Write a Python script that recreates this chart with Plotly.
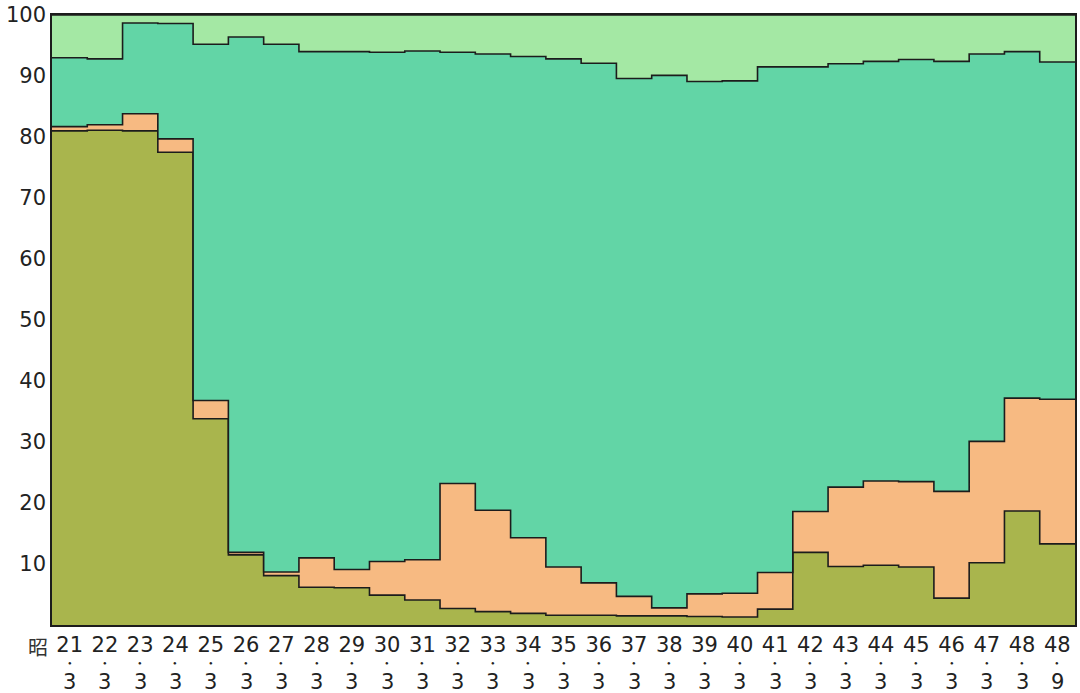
import numpy as np
import plotly.graph_objects as go

# Categories (昭和 year . month)
years = ["21", "22", "23", "24", "25", "26", "27", "28", "29", "30",
         "31", "32", "33", "34", "35", "36", "37", "38", "39", "40",
         "41", "42", "43", "44", "45", "46", "47", "48", "48"]
months = ["3"] * 28 + ["9"]

# Shares (%) of each layer, bottom to top
olive = [81.0, 81.1, 81.0, 77.5, 33.8, 11.5, 8.1, 6.2, 6.1, 4.9,
         4.1, 2.7, 2.2, 1.9, 1.6, 1.6, 1.5, 1.5, 1.4, 1.3,
         2.6, 11.9, 9.6, 9.8, 9.5, 4.4, 10.2, 18.7, 13.3]
orange = [0.7, 0.9, 2.8, 2.2, 3.0, 0.4, 0.6, 4.8, 3.0, 5.5,
          6.6, 20.5, 16.6, 12.4, 7.9, 5.3, 3.2, 1.3, 3.7, 3.9,
          6.0, 6.7, 13.0, 13.8, 14.0, 17.5, 19.9, 18.5, 23.7]
teal = [11.3, 10.8, 14.9, 18.9, 58.4, 84.5, 86.5, 83.0, 84.9, 83.5,
        83.4, 70.7, 74.8, 78.9, 83.3, 85.2, 84.9, 87.3, 84.0, 84.0,
        82.9, 72.9, 69.4, 68.8, 69.2, 70.5, 63.5, 56.8, 55.3]
light = [7.0, 7.2, 1.3, 1.4, 4.8, 3.6, 4.8, 6.0, 6.0, 6.1,
         5.9, 6.1, 6.4, 6.8, 7.2, 7.9, 10.4, 9.9, 10.9, 10.8,
         8.5, 8.5, 8.0, 7.6, 7.3, 7.6, 6.4, 6.0, 7.7]

layers = [olive, orange, teal, light]
colors = ["#a9b54d", "#f7ba82", "#62d5a6", "#a4e8a4"]

n = len(years)
xs = np.arange(n + 1)
cum = np.cumsum(np.array(layers), axis=0)

fig = go.Figure()
for i, (vals, col) in enumerate(zip(cum, colors)):
    ys = np.append(vals, vals[-1])
    fig.add_trace(go.Scatter(
        x=xs, y=ys, mode="lines", line_shape="hv",
        line=dict(color="#1c1c1c", width=1.6),
        fill="tozeroy" if i == 0 else "tonexty",
        fillcolor=col, hoverinfo="skip", showlegend=False,
    ))

tick_font = dict(family="DejaVu Sans, Liberation Sans, sans-serif", size=21, color="#222")

fig.update_layout(
    width=1080, height=693,
    margin=dict(l=52, r=3, t=14, b=68),
    paper_bgcolor="white", plot_bgcolor="white",
    xaxis=dict(range=[0, n], tickvals=[i + 0.5 for i in range(n)], ticktext=years,
               showgrid=False, zeroline=False, ticks="",
               showline=True, mirror=True, linecolor="#1c1c1c", linewidth=1.5,
               tickfont=tick_font, fixedrange=True),
    yaxis=dict(range=[0, 100], tickvals=list(range(10, 101, 10)),
               showgrid=False, zeroline=False, ticks="",
               showline=True, mirror=True, linecolor="#1c1c1c", linewidth=1.5,
               tickfont=tick_font, fixedrange=True),
)

for i in range(n):
    fig.add_annotation(x=i + 0.5, xref="x", y=-0.0625, yref="paper", text="●",
                       showarrow=False, font=dict(size=6, color="#222"), borderpad=0,
                       xanchor="center", yanchor="middle")
    fig.add_annotation(x=i + 0.5, xref="x", y=-0.093, yref="paper", text=months[i],
                       showarrow=False, font=tick_font, borderpad=0,
                       xanchor="center", yanchor="middle")

fig.add_annotation(x=-0.0137, xref="paper", y=-0.036, yref="paper", text="昭",
                   showarrow=False,
                   font=dict(family="Noto Sans CJK JP", size=20, color="#333"),
                   xanchor="center", yanchor="middle")

fig.write_html("out.html", config={"displayModeBar": False},
               post_script="document.body.style.margin='0';document.body.style.overflow='hidden';")
